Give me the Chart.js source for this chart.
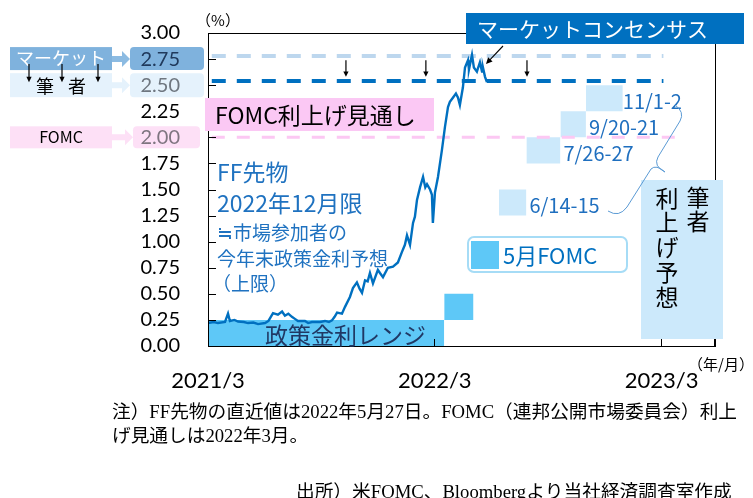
<!DOCTYPE html>
<html>
<head>
<meta charset="utf-8">
<script src="https://cdn.jsdelivr.net/npm/chart.js@4/dist/chart.umd.min.js"></script>
<style>
  html, body { margin: 0; padding: 0; background: #fff; }
</style>
</head>
<body>
<canvas id="chart" width="753" height="498"></canvas>
<script>
// x values are months counted from 2021/3 (0 = 2021/3, 12 = 2022/3, 24 = 2023/3)
const tickMonths = [0, 12, 24]
const tickLabels = ['2021/3', '2022/3', '2023/3']

// FF futures (Dec 2022 contract), %
const ffMonths = [0, 0.3, 0.53, 0.9, 1.06, 1.16, 1.4, 1.59, 1.9, 2.12, 2.4, 2.65, 3.02, 3.2, 3.44, 3.7, 3.92, 4.07, 4.25, 4.44,
  4.6, 4.76, 5.13, 5.3, 5.5, 5.93, 6.19, 6.4, 6.56, 6.7, 6.83, 7.09, 7.25, 7.51, 7.67, 7.88, 8.02, 8.15, 8.31, 8.45,
  8.57, 8.73, 8.99, 9.1, 9.26, 9.52, 9.79, 10.05, 10.26, 10.42, 10.53, 10.69, 10.85, 10.95, 11.06, 11.22, 11.38, 11.5, 11.59, 11.75,
  11.85, 11.9, 12.01, 12.17, 12.38, 12.54, 12.7, 12.8, 12.96, 13.12, 13.23, 13.33, 13.49, 13.6, 13.76, 13.81, 13.97, 14.07, 14.23, 14.39,
  14.5, 14.55, 14.66, 14.76]
const ffRates = [0.22, 0.23, 0.22, 0.23, 0.31, 0.24, 0.25, 0.235, 0.23, 0.22, 0.225, 0.21, 0.22, 0.24, 0.315, 0.3, 0.33, 0.29, 0.31, 0.28,
  0.26, 0.24, 0.24, 0.22, 0.23, 0.23, 0.24, 0.23, 0.245, 0.28, 0.32, 0.31, 0.375, 0.47, 0.555, 0.61, 0.55, 0.51, 0.63, 0.62,
  0.7, 0.6, 0.73, 0.7, 0.66, 0.75, 0.76, 0.8, 0.9, 0.97, 1.06, 0.97, 1.18, 1.24, 1.4, 1.52, 1.62, 1.52, 1.55, 1.5,
  1.45, 1.18, 1.47, 1.62, 1.88, 2.1, 2.29, 2.34, 2.38, 2.42, 2.38, 2.31, 2.48, 2.67, 2.74, 2.65, 2.79, 2.67, 2.63, 2.72,
  2.63, 2.67, 2.58, 2.53]

// policy rate range
const policyStart = [0, 12.5]
const policyEnd = [12.5, 14.05]
const policyLow = [0, 0.25]
const policyHigh = [0.25, 0.5]

// author's forecast per FOMC meeting
const meetingLabels = ['6/14-15', '7/26-27', '9/20-21', '11/1-2']
const meetingStart = [15.4, 16.85, 18.65, 20.0]
const meetingEnd = [16.85, 18.65, 20.0, 21.95]
const forecastLow = [1.25, 1.75, 2.0, 2.25]
const forecastHigh = [1.5, 2.0, 2.25, 2.5]

// year-end levels
const marketLevel = 2.78
const authorLevel = 2.54
const fomcLevel = 2.0

const JP = '"Noto Sans CJK JP", sans-serif'
const BLUE = '#0070c0'

function hline(level, from, to, color, width, dash, order) {
  return {
    data: [{ x: from, y: level }, { x: to, y: level }],
    borderColor: color, borderWidth: width, borderDash: dash,
    pointRadius: 0, fill: false, order: order
  }
}

function box(x0, x1, lo, hi, color, order) {
  return {
    data: [{ x: x0, y: hi }, { x: x1, y: hi }],
    borderColor: 'rgba(0,0,0,0)', borderWidth: 0, backgroundColor: color,
    fill: { value: lo }, pointRadius: 0, order: order
  }
}

const datasets = [
  {
    data: ffMonths.map((m, i) => ({ x: m, y: ffRates[i] })),
    borderColor: BLUE, borderWidth: 2.4, pointRadius: 0, fill: false, order: 0
  },
  hline(marketLevel, 0.2, 24.1, '#bdd7ee', 4, [14, 11], 1),
  hline(authorLevel, 0.2, 24.1, BLUE, 4, [14, 11], 1),
  hline(fomcLevel, 0.2, 24.7, '#fcc8f3', 3, [13, 12], 1)
]
meetingStart.forEach((s, i) => datasets.push(box(s, meetingEnd[i], forecastLow[i], forecastHigh[i], '#cce9fb', 3)))
policyStart.forEach((s, i) => datasets.push(box(s, policyEnd[i], policyLow[i], policyHigh[i], '#5ec8f7', 4)))

function text(ctx, str, x, y, font, color, align) {
  ctx.font = font
  ctx.fillStyle = color
  ctx.textAlign = align || 'left'
  ctx.textBaseline = 'middle'
  ctx.fillText(str, x, y)
}

function rrect(ctx, x, y, w, h, r) {
  ctx.beginPath()
  if (ctx.roundRect) ctx.roundRect(x, y, w, h, r)
  else ctx.rect(x, y, w, h)
}

function blockArrow(ctx, x0, x1, yc, color) {
  ctx.fillStyle = color
  ctx.beginPath()
  ctx.moveTo(x0, yc - 3)
  ctx.lineTo(x1 - 8, yc - 3)
  ctx.lineTo(x1 - 8, yc - 8)
  ctx.lineTo(x1, yc)
  ctx.lineTo(x1 - 8, yc + 8)
  ctx.lineTo(x1 - 8, yc + 3)
  ctx.lineTo(x0, yc + 3)
  ctx.closePath()
  ctx.fill()
}

function thinArrow(ctx, x0, y0, x1, y1, color, w, head) {
  const a = Math.atan2(y1 - y0, x1 - x0)
  ctx.strokeStyle = color
  ctx.fillStyle = color
  ctx.lineWidth = w
  ctx.beginPath()
  ctx.moveTo(x0, y0)
  ctx.lineTo(x1 - Math.cos(a) * head * 0.8, y1 - Math.sin(a) * head * 0.8)
  ctx.stroke()
  ctx.beginPath()
  ctx.moveTo(x1, y1)
  ctx.lineTo(x1 - head * Math.cos(a - 0.45), y1 - head * Math.sin(a - 0.45))
  ctx.lineTo(x1 - head * Math.cos(a + 0.45), y1 - head * Math.sin(a + 0.45))
  ctx.closePath()
  ctx.fill()
}

const decor = {
  id: 'decor',
  beforeDraw(chart) {
    const ctx = chart.ctx
    const Y = v => chart.scales.y.getPixelForValue(v)
    ctx.save()
    ctx.fillStyle = '#fff'
    ctx.fillRect(0, 0, chart.width, chart.height)

    // left legend boxes
    ctx.fillStyle = '#7fb2dd'
    ctx.fillRect(10, Y(2.75) - 12, 102, 23)
    ctx.fillStyle = '#e5f2fc'
    ctx.fillRect(10, Y(2.5) - 12, 102, 24)
    ctx.fillStyle = '#fde0f6'
    ctx.fillRect(10, Y(2.0) - 11, 102, 22)
    text(ctx, 'マーケット', 61, Y(2.75) - 1, '18px ' + JP, '#fff', 'center')
    text(ctx, '筆', 45, Y(2.5) + 1, '18px ' + JP, '#000', 'center')
    text(ctx, '者', 77, Y(2.5) + 1, '18px ' + JP, '#000', 'center')
    text(ctx, 'FOMC', 61, Y(2.0), '16px ' + JP, '#000', 'center')
    ;[29, 62, 98].forEach(x => thinArrow(ctx, x, Y(2.75) + 5, x, Y(2.5) - 3, '#000', 1.2, 6))

    blockArrow(ctx, 112, 130, Y(2.75), '#8cbbe2')
    blockArrow(ctx, 112, 130, Y(2.5), '#e5f2fc')
    blockArrow(ctx, 112, 133, Y(2.0), '#fde0f6')

    // backgrounds behind the highlighted tick labels
    ctx.fillStyle = '#7fb2dd'
    rrect(ctx, 130, Y(2.75) - 12, 74, 23, 4); ctx.fill()
    ctx.fillStyle = '#e5f2fc'
    rrect(ctx, 130, Y(2.5) - 12, 74, 24, 4); ctx.fill()
    ctx.fillStyle = '#fde0f6'
    rrect(ctx, 133, Y(2.0) - 11, 67, 22, 4); ctx.fill()
    ctx.restore()
  },
  afterDatasetsDraw(chart) {
    const ctx = chart.ctx
    const a = chart.chartArea
    const X = v => chart.scales.x.getPixelForValue(v)
    const Y = v => chart.scales.y.getPixelForValue(v)
    ctx.save()

    // frame and inward ticks
    ctx.strokeStyle = '#000'
    ctx.lineWidth = 1
    ctx.strokeRect(Math.round(a.left) + 0.5, Math.round(a.top) + 0.5, Math.round(a.right - a.left), Math.round(a.bottom - a.top))
    ctx.beginPath()
    for (let v = 0.25; v < 3; v += 0.25) {
      const y = Math.round(Y(v)) + 0.5
      ctx.moveTo(a.left, y); ctx.lineTo(a.left + 8, y)
    }
    tickMonths.slice(1).concat([chart.scales.x.max]).forEach(m => {
      const x = Math.round(X(m)) - 0.5
      ctx.moveTo(x, a.bottom); ctx.lineTo(x, a.bottom - 7)
    })
    ctx.stroke()

    // arrows pointing down to the author's level
    ;[7.3, 11.53, 16.88].forEach(m => thinArrow(ctx, X(m), Y(2.74), X(m), Y(2.58), '#000', 1.2, 6))

    // FOMC projection label
    ctx.fillStyle = '#fbc8f4'
    ctx.fillRect(205, 98, 229, 33)
    text(ctx, 'FOMC利上げ見通し', 215, 115, '23px ' + JP, '#000')

    // market consensus label
    ctx.fillStyle = BLUE
    ctx.fillRect(466, 13, 278, 31)
    text(ctx, 'マーケットコンセンサス', 477, 29, '21px ' + JP, '#fff')
    thinArrow(ctx, 503, 46, 486, 64, '#000', 1.1, 7)

    // FF futures description
    text(ctx, 'FF先物', 217, 172, '23px ' + JP, '#1f72c0')
    text(ctx, '2022年12月限', 217, 203, '23px ' + JP, '#1f72c0')
    text(ctx, '≒市場参加者の', 217, 233, '19px ' + JP, '#1f72c0')
    text(ctx, '今年末政策金利予想', 217, 259, '19px ' + JP, '#1f72c0')
    text(ctx, '（上限）', 212, 284, '19px ' + JP, '#1f72c0')

    text(ctx, '政策金利レンジ', 265, 335, '23px ' + JP, '#203864')

    // May FOMC legend
    ctx.fillStyle = '#fff'
    ctx.strokeStyle = '#a6dcf6'
    ctx.lineWidth = 2
    rrect(ctx, 468, 237, 159, 35, 6); ctx.fill(); ctx.stroke()
    ctx.fillStyle = '#5ec8f7'
    ctx.fillRect(471, 241, 28, 28)
    text(ctx, '5月FOMC', 503, 256, '22px ' + JP, BLUE)

    // meeting labels next to the forecast boxes
    meetingLabels.forEach((s, i) => {
      const dx = i === 3 ? 0 : 3
      text(ctx, s, X(meetingEnd[i]) + dx, Y((forecastLow[i] + forecastHigh[i]) / 2) + 3, '20px ' + JP, '#1f6fbf')
    })

    // author's forecast caption
    ctx.fillStyle = '#cce9fb'
    ctx.fillRect(641, 180, 82, 159)
    ;['筆', '者'].forEach((c, i) => text(ctx, c, 698, 197 + i * 24.5, '23px ' + JP, '#000', 'center'))
    ;['利', '上', 'げ', '予', '想'].forEach((c, i) => text(ctx, c, 667, 198 + i * 24.7, '23px ' + JP, '#000', 'center'))

    // brace
    ctx.strokeStyle = '#5b9bd5'
    ctx.lineWidth = 1
    ctx.beginPath()
    ctx.moveTo(608, 211)
    ctx.quadraticCurveTo(619, 218, 627, 207)
    ctx.lineTo(651, 169)
    ctx.quadraticCurveTo(656, 164, 665, 172)
    ctx.moveTo(665, 172)
    ctx.quadraticCurveTo(653, 166, 658, 157)
    ctx.lineTo(680, 121)
    ctx.quadraticCurveTo(685, 112, 675, 105)
    ctx.stroke()

    // units
    text(ctx, '（%）', 218, 20, '15px ' + JP, '#000', 'center')
    text(ctx, '（年/月）', 721, 364, '15px ' + JP, '#000', 'center')

    // notes
    const NOTE = '18.7px "Liberation Serif", ' + JP
    text(ctx, '注）FF先物の直近値は2022年5月27日。FOMC（連邦公開市場委員会）利上', 112, 413, NOTE, '#000')
    text(ctx, 'げ見通しは2022年3月。', 112, 437, NOTE, '#000')
    text(ctx, '出所）米FOMC、Bloombergより当社経済調査室作成', 296, 493, NOTE, '#000')
    ctx.restore()
  }
}

new Chart(document.getElementById('chart'), {
  type: 'line',
  data: { datasets: datasets },
  options: {
    responsive: false,
    animation: false,
    layout: { padding: { top: 33, right: 38, left: 0, bottom: 0 } },
    plugins: { legend: { display: false }, tooltip: { enabled: false } },
    scales: {
      x: {
        type: 'linear',
        min: 0,
        max: 26.83,
        grid: { display: false, drawTicks: false },
        border: { display: false },
        afterBuildTicks: s => { s.ticks = tickMonths.map(v => ({ value: v })) },
        afterFit: s => { s.height = 152 },
        ticks: {
          autoSkip: false,
          maxRotation: 0,
          padding: 22,
          color: '#000',
          font: { family: 'Lato', size: 22 },
          callback: v => tickLabels[tickMonths.indexOf(v)]
        }
      },
      y: {
        min: 0,
        max: 3,
        grid: { display: false, drawTicks: false },
        border: { display: false },
        afterFit: s => {
          s.width = 208
          s.paddingTop = 12
          s.paddingBottom = 12
        },
        ticks: {
          autoSkip: false,
          stepSize: 0.25,
          padding: 28,
          font: { family: 'Lato', size: 20 },
          color: c => {
            const v = c.tick.value
            if (Math.abs(v - 2.75) < 0.01) return '#203a5c'
            if (Math.abs(v - 2.5) < 0.01) return '#6f7780'
            if (Math.abs(v - 2.0) < 0.01) return '#7f7580'
            return '#000'
          },
          callback: v => v.toFixed(2)
        }
      }
    }
  },
  plugins: [decor]
})
</script>
</body>
</html>
